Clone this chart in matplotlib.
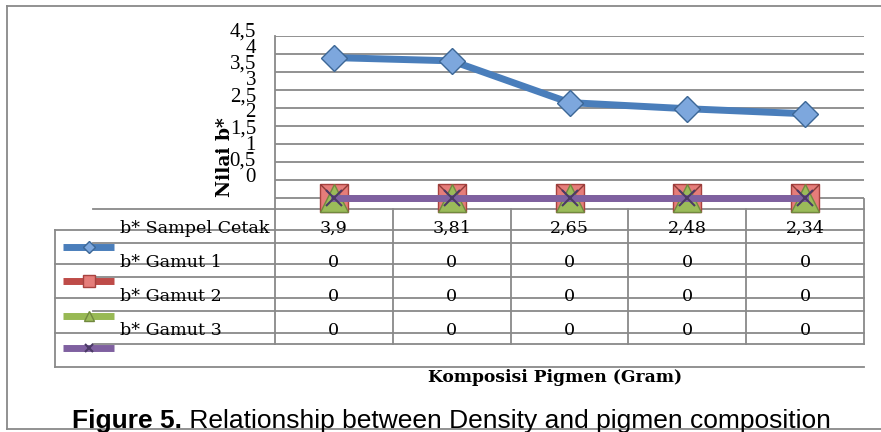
import numpy as np
import matplotlib.pyplot as plt
from matplotlib import transforms

# Données du graphique (valeurs b*)
serie_noms = ['b* Sampel Cetak', 'b* Gamut 1', 'b* Gamut 2', 'b* Gamut 3']
sampel_cetak = [3.9, 3.81, 2.65, 2.48, 2.34]
gamut_1 = [0, 0, 0, 0, 0]
gamut_2 = [0, 0, 0, 0, 0]
gamut_3 = [0, 0, 0, 0, 0]
y_ticks = [0, 0.5, 1, 1.5, 2, 2.5, 3, 3.5, 4, 4.5]

W, H = 881, 432
gris = '#898989'
serif = 'DejaVu Serif'

fig = plt.figure(figsize=(W / 100, H / 100), dpi=100)

# axe de fond en pixels pour le cadre et le tableau
bg = fig.add_axes([0, 0, 1, 1])
bg.set_xlim(0, W)
bg.set_ylim(H, 0)
bg.axis('off')


def axes_px(x0, y0, x1, y1):
    return fig.add_axes([x0 / W, 1 - y1 / H, (x1 - x0) / W, (y1 - y0) / H])


# zone de tracé
ax = axes_px(275, 36, 864, 209)
ax.patch.set_alpha(0)
ax.set_xlim(-0.5, 4.5)
ax.set_ylim(-0.305, 4.5)
ax.set_yticks(y_ticks)
ax.set_yticklabels([])
ax.set_xticks([])
ax.tick_params(length=0)
ax.grid(axis='y', color=gris, lw=1.3)
for s in ['top', 'right', 'bottom']:
    ax.spines[s].set_visible(False)
ax.spines['left'].set_color(gris)
ax.spines['left'].set_linewidth(1.3)

x = np.arange(len(sampel_cetak))
styles = [
    dict(color='#4A7EBB', marker='D', ms=13.5, mfc='#7DA7DD', mec='#3C6796', mew=1),
    dict(color='#BE4B48', marker='s', ms=20, mfc='#E57D7A', mec='#A8423F', mew=1),
    dict(color='#98B954', marker='^', ms=20, mfc='#9BBB59', mec='#71893F', mew=1),
    dict(color='#7F60A0', marker='x', ms=11, mec='#4B3A66', mew=1.5),
]
series = [sampel_cetak, gamut_1, gamut_2, gamut_3]
for i, (vals, st) in enumerate(zip(series, styles)):
    ax.plot(x, vals, lw=5, clip_on=False, zorder=5 + i, **st)
    if i == 1:
        # croix dans les carrés rouges
        ax.plot(x, vals, ls='none', marker='x', ms=20, mec='#8E3A38', mew=1,
                clip_on=False, zorder=6)

# étiquettes de l'axe Y (décalées comme dans l'original)
lab = axes_px(275, 29.6, 864, 175)
lab.patch.set_alpha(0)
lab.set_ylim(0, 4.5)
lab.set_yticks(y_ticks)
lab.set_yticklabels([f'{v:g}'.replace('.', ',') for v in y_ticks],
                    family='Liberation Serif', fontsize=15)
lab.set_xticks([])
lab.tick_params(length=0, pad=13.7)
for s in lab.spines.values():
    s.set_visible(False)

# tableau de données
tr = transforms.blended_transform_factory(ax.transData, bg.transData)
lw_t = 1.3
for yy in [209, 243, 277, 311, 344]:
    bg.plot([93, 864], [yy, yy], color=gris, lw=lw_t)
for yy in [230, 264, 298, 333, 367]:
    bg.plot([55, 864], [yy, yy], color=gris, lw=lw_t)
bg.plot([55, 55], [230, 367], color=gris, lw=lw_t)
bg.plot([864, 864], [199, 344], color=gris, lw=lw_t)
for b in np.arange(len(x)) - 0.5:
    bg.plot([b, b], [209, 344], color=gris, lw=lw_t, transform=tr)

baselines = [233, 267, 301, 335]
for nom, vals, yb in zip(serie_noms, series, baselines):
    bg.text(120, yb, nom, ha='left', va='baseline', fontsize=12.6, family=serif)
    for xi, v in zip(x, vals):
        bg.text(xi, yb, f'{v:g}'.replace('.', ','), ha='center', va='baseline',
                fontsize=12.6, family=serif, transform=tr)

# clés de légende
key_y = [247, 281, 316, 348]
key_ms = [6, 9, 7, 6]
for st, yk, ms in zip(styles, key_y, key_ms):
    st = dict(st)
    st['ms'] = ms
    bg.plot([63, 114], [yk, yk], lw=5, solid_capstyle='butt', color=st['color'])
    bg.plot([89], [yk], ls='none', **st)

# titres des axes
bg.text(225, 157, 'Nilai b*', rotation=90, ha='center', va='center',
        fontsize=13.5, fontweight='bold', family=serif)
bg.text(555, 382, 'Komposisi Pigmen (Gram)', ha='center', va='baseline',
        fontsize=12.3, fontweight='bold', family=serif)

# cadre extérieur
bg.plot([7, W], [6, 6], color=gris, lw=1.3)
bg.plot([7, 7], [6, 429], color=gris, lw=1.3)
bg.plot([7, W], [429, 429], color=gris, lw=1.3)

# légende de la figure
r = fig.canvas.get_renderer()
t1 = bg.text(72, 428, 'Figure 5.', ha='left', va='baseline', fontsize=19,
             fontweight='bold', family='Liberation Sans')
bb = t1.get_window_extent(renderer=r)
bg.text(bb.x1 * W / fig.bbox.width, 428, ' Relationship between Density and pigmen composition',
        ha='left', va='baseline', fontsize=19, family='Liberation Sans')

fig.savefig('out.png', dpi=100)
